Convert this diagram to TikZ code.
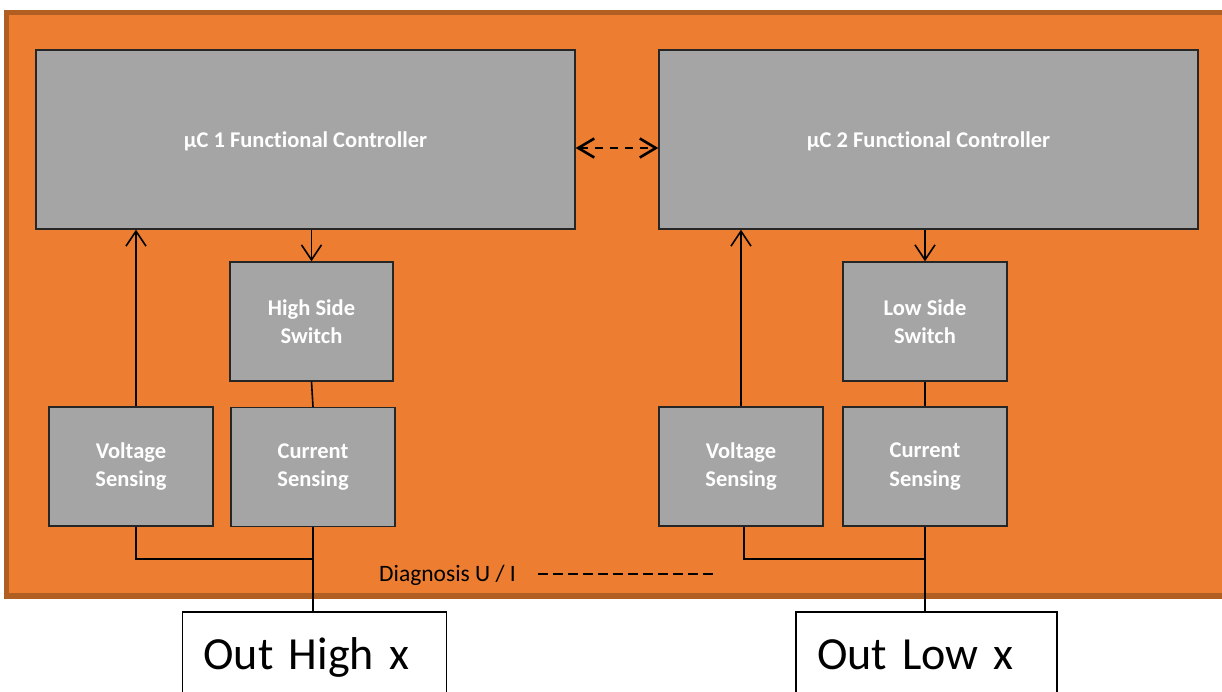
\documentclass[tikz,border=0pt]{standalone}
\usepackage{fontspec}
\setmainfont{Carlito}[Ligatures=NoCommon]
\usetikzlibrary{arrows.meta}
\definecolor{orangebg}{HTML}{ED7D31}
\definecolor{orangeedge}{HTML}{B15E23}
\definecolor{blockgray}{HTML}{A5A5A5}

\begin{document}
\begin{tikzpicture}
[x=1pt,y=-1pt,
 blk/.style={draw=black!85,line width=1.4pt,fill=blockgray,text=white,
   font=\fontsize{22.5}{28.5}\selectfont\bfseries,align=center,inner sep=0pt},
 outbox/.style={draw=black,line width=1.8pt,fill=white,inner xsep=21pt,inner ysep=0pt,
   font=\fontsize{46}{50}\selectfont,align=left,minimum height=128pt,
   text height=32pt,text depth=46pt},
 wire/.style={line width=1.6pt},
 barb/.style={-{Straight Barb[length=15pt,width=20pt]}}]

  \clip (0,0) rectangle (1222,691);
  % board
  \draw[line width=5.5pt,draw=orangeedge,fill=orangebg] (6.5,12.5) rectangle (1240,596);

  \node[blk,minimum width=539pt,minimum height=179pt,text depth=0pt] (mc1) at (305.5,139.5) {µC 1 Functional Controller};
  \node[blk,minimum width=539pt,minimum height=179pt,text depth=0pt] (mc2) at (928.5,139.5) {µC 2 Functional Controller};

  \node[blk,minimum width=163pt,minimum height=119pt] (hss) at (311.5,321.5) {High Side\\Switch};
  \node[blk,minimum width=164pt,minimum height=119pt] (lss) at (925,321.5) {Low Side\\Switch};

  \node[blk,minimum width=164pt,minimum height=119pt] (vs1) at (131,466.5) {Voltage\\Sensing};
  \node[blk,minimum width=164pt,minimum height=119pt] (cs1) at (313,467) {Current\\Sensing};
  \node[blk,minimum width=164pt,minimum height=119pt] (vs2) at (741,466.5) {Voltage\\Sensing};
  \node[blk,minimum width=164pt,minimum height=119pt] (cs2) at (925,466.5) {Current\\Sensing};

  \node[outbox,text width=222pt] (outh) at (314.5,676) {Out High x};
  \node[outbox,text width=219pt] (outl) at (926.5,676) {Out Low x};

  \node[font=\fontsize{23.5}{27}\selectfont,inner sep=0pt,anchor=base west] (diag) at (379,581) {Diagnosis U / I};
  \coordinate (diagstart) at (538,574);
  \coordinate (diagend) at (713,574);
  \coordinate (tap1) at (313,559);
  \coordinate (tap2) at (925,559);

  % links
  \draw[line width=2.6pt,dash pattern=on 8pt off 7pt,
    {Straight Barb[length=16pt,width=19pt]}-{Straight Barb[length=16pt,width=19pt]}]
    ([yshift=-8.5pt]mc1.east) -- ([yshift=-8.5pt]mc2.west);
  \draw[wire,barb] (hss.north |- mc1.south) -- (hss.north);
  \draw[wire,barb] ([xshift=5pt]vs1.north) -- ([xshift=5pt]vs1.north |- mc1.south);
  \draw[wire] (hss.south) -- (cs1.north);
  \draw[wire] ([xshift=5pt]vs1.south) |- (tap1);
  \draw[wire] (cs1.south) -- (cs1.south |- outh.north);

  \draw[wire,barb] (lss.north |- mc2.south) -- (lss.north);
  \draw[wire,barb] (vs2.north) -- (vs2.north |- mc2.south);
  \draw[wire] (lss.south) -- (cs2.north);
  \draw[wire] ([xshift=3pt]vs2.south) |- (tap2);
  \draw[wire] (cs2.south) -- (cs2.south |- outl.north);

  \draw[line width=1.5pt,dash pattern=on 10pt off 5pt] (diagstart) -- (diagend);
\end{tikzpicture}
\end{document}
